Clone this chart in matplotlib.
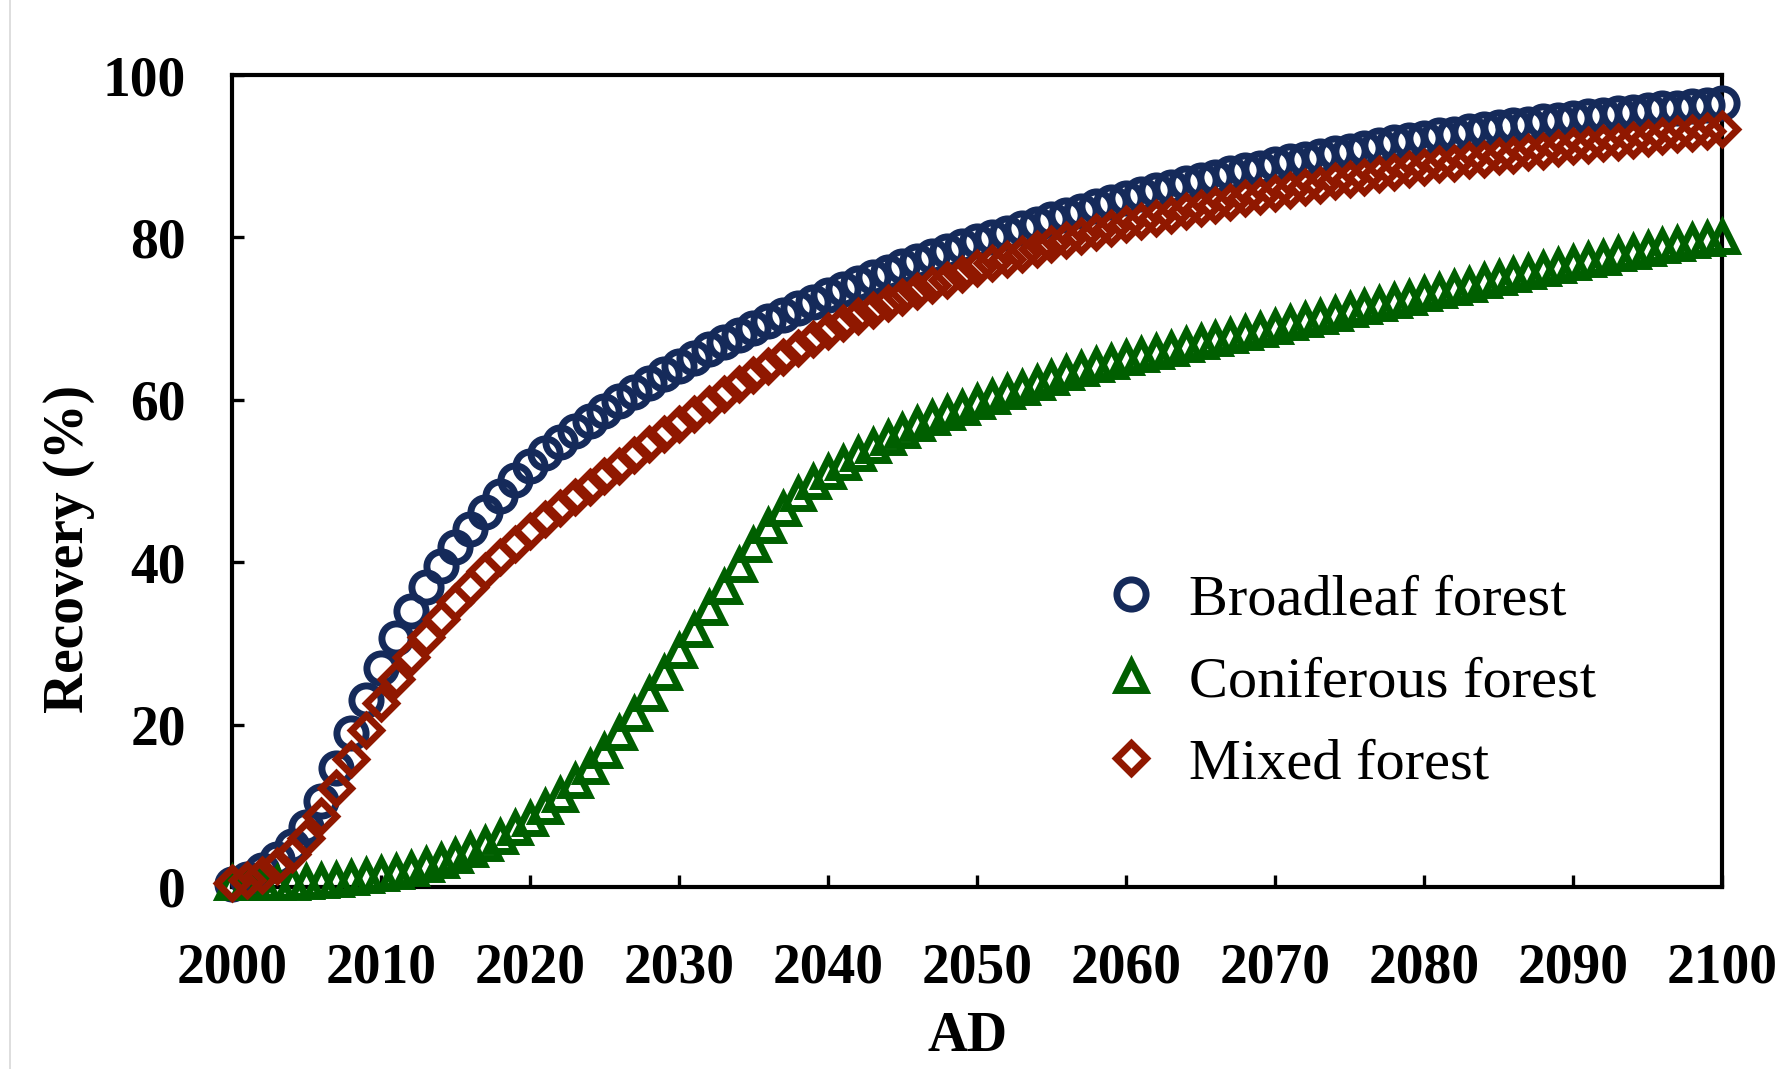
import matplotlib
matplotlib.use("Agg")
import matplotlib.pyplot as plt
from matplotlib.lines import Line2D

plt.rcParams["font.family"] = ["Liberation Serif", "DejaVu Serif"]

# Simulated forest recovery (%) for each year, 2000-2100
years = list(range(2000, 2101))

broadleaf = [
    0.4, 1.0, 2.1, 3.5, 5.1, 7.4, 10.6, 14.7, 19.0, 23.0,
    27.0, 30.7, 34.0, 36.9, 39.5, 41.9, 44.1, 46.2, 48.2, 50.1,
    51.8, 53.4, 54.8, 56.1, 57.4, 58.6, 59.8, 61.0, 62.1, 63.2,
    64.2, 65.2, 66.2, 67.1, 68.0, 68.9, 69.7, 70.5, 71.3, 72.1,
    72.9, 73.7, 74.4, 75.1, 75.8, 76.5, 77.1, 77.7, 78.3, 78.9,
    79.5, 80.1, 80.6, 81.2, 81.7, 82.3, 82.8, 83.3, 83.9, 84.4,
    84.9, 85.3, 85.8, 86.2, 86.7, 87.1, 87.5, 87.9, 88.3, 88.6,
    89.0, 89.4, 89.7, 90.0, 90.4, 90.7, 91.0, 91.4, 91.7, 92.0,
    92.3, 92.6, 92.8, 93.1, 93.3, 93.6, 93.8, 94.0, 94.3, 94.5,
    94.7, 94.9, 95.1, 95.3, 95.5, 95.7, 95.9, 96.0, 96.2, 96.3,
    96.5,
]

coniferous = [
    0.5, 0.5, 0.5, 0.5, 0.5, 0.6, 0.7, 0.9, 1.1, 1.3,
    1.6, 1.9, 2.2, 2.7, 3.2, 3.8, 4.5, 5.3, 6.2, 7.2,
    8.4, 9.8, 11.3, 13.0, 14.8, 16.8, 19.0, 21.3, 23.8, 26.4,
    29.0, 31.7, 34.4, 37.0, 39.6, 42.1, 44.5, 46.6, 48.4, 49.9,
    51.1, 52.2, 53.3, 54.3, 55.3, 56.2, 57.0, 57.7, 58.4, 59.0,
    59.7, 60.3, 60.9, 61.5, 62.1, 62.7, 63.3, 63.8, 64.3, 64.7,
    65.1, 65.5, 65.9, 66.3, 66.7, 67.1, 67.5, 67.8, 68.2, 68.6,
    69.0, 69.4, 69.8, 70.2, 70.6, 71.0, 71.4, 71.8, 72.2, 72.6,
    73.0, 73.4, 73.8, 74.2, 74.6, 75.0, 75.4, 75.7, 76.1, 76.5,
    76.8, 77.2, 77.5, 77.9, 78.2, 78.6, 78.9, 79.2, 79.5, 79.8,
    80.0,
]

mixed = [
    0.5, 0.8, 1.5, 2.6, 4.0, 6.0, 8.8, 12.2, 15.8, 19.3,
    22.6, 25.6, 28.3, 30.8, 33.0, 35.1, 37.0, 38.9, 40.6, 42.3,
    43.8, 45.3, 46.7, 48.0, 49.3, 50.6, 51.9, 53.2, 54.5, 55.8,
    57.0, 58.3, 59.5, 60.7, 61.9, 63.0, 64.2, 65.3, 66.4, 67.5,
    68.5, 69.4, 70.3, 71.1, 71.9, 72.7, 73.4, 74.1, 74.8, 75.5,
    76.2, 76.8, 77.4, 78.0, 78.6, 79.2, 79.7, 80.2, 80.7, 81.2,
    81.6, 82.0, 82.4, 82.8, 83.2, 83.6, 84.0, 84.4, 84.8, 85.1,
    85.5, 85.8, 86.2, 86.5, 86.9, 87.2, 87.5, 87.8, 88.1, 88.4,
    88.7, 89.0, 89.2, 89.5, 89.7, 90.0, 90.2, 90.5, 90.7, 91.0,
    91.2, 91.4, 91.6, 91.8, 92.0, 92.3, 92.5, 92.7, 92.9, 93.1,
    93.3,
]

series_labels = ["Broadleaf forest", "Coniferous forest", "Mixed forest"]
x_ticks = [2000, 2010, 2020, 2030, 2040, 2050, 2060, 2070, 2080, 2090, 2100]
y_ticks = [0, 20, 40, 60, 80, 100]

colors = ["#152a5a", "#005f00", "#901800"]
markers = ["o", "^", "D"]
sizes = [21, 20, 15]

fig = plt.figure(figsize=(17.91, 10.69), dpi=100)
ax = fig.add_axes([0.1295, 0.1703, 0.8320, 0.7595])

for vals, lab, c, m, s in zip([broadleaf, coniferous, mixed], series_labels,
                              colors, markers, sizes):
    ax.plot(years, vals, linestyle="none", marker=m, markersize=s,
            markerfacecolor="none", markeredgecolor=c, markeredgewidth=5.0,
            clip_on=False, label=lab, zorder=3)

ax.set_xlim(2000, 2100)
ax.set_ylim(0, 100)
ax.set_xticks(x_ticks)
ax.set_yticks(y_ticks)

for sp in ax.spines.values():
    sp.set_linewidth(3.0)
    sp.set_color("black")

ax.tick_params(axis="both", direction="in", length=8.5, width=2.4,
               labelsize=40)
ax.tick_params(axis="x", pad=40)
ax.tick_params(axis="y", pad=33)
for t in ax.get_xticklabels() + ax.get_yticklabels():
    t.set_fontweight("bold")

ax.set_xlabel("AD", fontsize=40, fontweight="bold")
ax.set_ylabel("Recovery (%)", fontsize=40, fontweight="bold")
ax.xaxis.set_label_coords(0.494, -0.153)
ax.yaxis.set_label_coords(-0.092, 0.416)

leg = ax.legend(loc="center left", bbox_to_anchor=(0.599, 0.362),
                bbox_transform=fig.transFigure, frameon=False, borderpad=0,
                handlelength=1.0, handletextpad=0.5, labelspacing=0.5,
                fontsize=42, numpoints=1)

# thin page edge on the left
fig.add_artist(Line2D([0.0056, 0.0056], [0, 1], transform=fig.transFigure,
                      color="#d8d8d8", linewidth=1.2))

fig.savefig("out.png", dpi=100, facecolor="white")
